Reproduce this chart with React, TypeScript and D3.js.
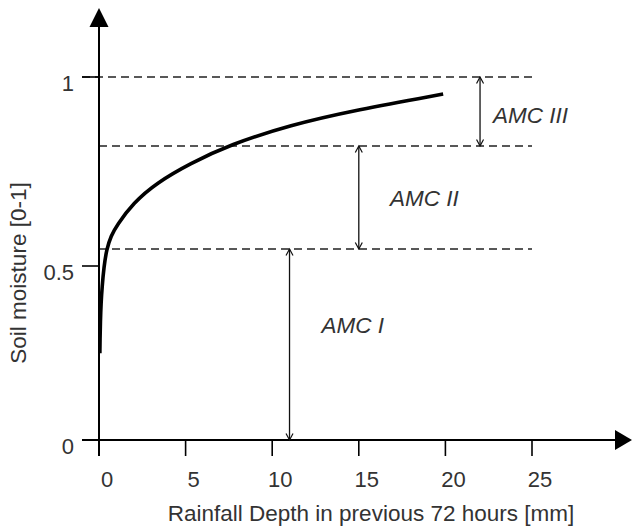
import React from "react";
import * as d3 from "d3";

const curveX = [0.05, 0.06, 0.08, 0.12, 0.18, 0.28, 0.44, 0.7, 1.02, 1.98, 3.33, 5.25, 7.56, 11.03, 14.87, 19.87];
const curveY = [0.249, 0.29, 0.34, 0.395, 0.44, 0.495, 0.545, 0.58, 0.607, 0.667, 0.72, 0.771, 0.821, 0.873, 0.913, 0.955];

const xTicks = [0, 5, 10, 15, 20, 25];
const yTicks = [0, 0.5, 1];
const yTickLabels = ["0", "0.5", "1"];

const thresholds = [0.545, 0.8175, 1];

const amcNames = ["AMC I", "AMC II", "AMC III"];
const amcArrowX = [11, 15, 22];
const amcLow = [0, 0.545, 0.8175];
const amcHigh = [0.545, 0.8175, 1];
const amcLabelX = [12.85, 16.8, 22.75];
const amcLabelY = [0.33, 0.68, 0.9];

const xTitle = "Rainfall Depth in previous 72 hours [mm]";
const yTitle = "Soil moisture [0-1]";

const W = 632;
const H = 530;
const FONT = "'Liberation Sans', Arial, sans-serif";

export default function App() {
  const x = d3.scaleLinear().domain([0, 25]).range([99, 532]);
  const y = d3.scaleLinear().domain([0, 0.5, 1]).range([440, 266, 77]);

  const pts: [number, number][] = curveX.map((v, i) => [v, curveY[i]]);
  const line = d3
    .line<[number, number]>()
    .x((d) => x(d[0]))
    .y((d) => y(d[1]))
    .curve(d3.curveBasis);

  const x0 = x(0);
  const y0 = y(0);
  const textColor = "#333";

  return (
    <svg
      width={W}
      height={H}
      style={{ position: "absolute", left: 0, top: 0, background: "#fff" }}
      fontFamily={FONT}
    >
      <defs>
        <marker
          id="chev"
          viewBox="-1 -5 9 10"
          refX={6.5}
          refY={0}
          markerWidth={9}
          markerHeight={10}
          markerUnits="userSpaceOnUse"
          orient="auto-start-reverse"
        >
          <path d="M0,-3.5 L6.5,0 L0,3.5" fill="none" stroke="#111" strokeWidth={1.2} />
        </marker>
      </defs>

      {/* dashed threshold lines */}
      {thresholds.map((t, i) => (
        <line
          key={"th" + i}
          x1={t === 1 ? x0 - 17 : x0}
          x2={x(25)}
          y1={y(t)}
          y2={y(t)}
          stroke="#222"
          strokeWidth={1.5}
          strokeDasharray="8,5"
        />
      ))}

      {/* x axis */}
      <line x1={x0 - 17} x2={W - 17} y1={y0} y2={y0} stroke="#000" strokeWidth={2} />
      <path d={`M${W - 17},${y0 - 10} L${W},${y0} L${W - 17},${y0 + 10} Z`} fill="#000" />
      {xTicks.map((t) => (
        <g key={"xt" + t}>
          <line x1={x(t)} x2={x(t)} y1={y0} y2={y0 + 16} stroke="#000" strokeWidth={1.6} />
          <text
            x={x(t) + 8}
            y={487}
            textAnchor="middle"
            fontSize={22}
            fill={textColor}
          >
            {t}
          </text>
        </g>
      ))}

      {/* y axis */}
      <line x1={x0} x2={x0} y1={y0 + 16} y2={27} stroke="#000" strokeWidth={2} />
      <path d={`M${x0 - 9.5},27 L${x0},8 L${x0 + 9.5},27 Z`} fill="#000" />
      {yTicks.map((t, i) => (
        <g key={"yt" + t}>
          <line x1={x0 - 17} x2={x0} y1={y(t)} y2={y(t)} stroke="#000" strokeWidth={1.6} />
          <text
            x={74}
            y={y(t) + 13.5}
            textAnchor="end"
            fontSize={22}
            fill={textColor}
          >
            {yTickLabels[i]}
          </text>
        </g>
      ))}

      {/* curve */}
      <path d={line(pts) || ""} fill="none" stroke="#000" strokeWidth={3.6} strokeLinecap="butt" />

      {/* AMC arrows */}
      {amcNames.map((n, i) => (
        <g key={n}>
          <line
            x1={x(amcArrowX[i])}
            x2={x(amcArrowX[i])}
            y1={y(amcLow[i])}
            y2={y(amcHigh[i])}
            stroke="#111"
            strokeWidth={1.3}
            markerStart="url(#chev)"
            markerEnd="url(#chev)"
          />
          <text
            x={x(amcLabelX[i])}
            y={y(amcLabelY[i]) + 8}
            fontSize={22.5}
            fontStyle="italic"
            fill={textColor}
          >
            {n}
          </text>
        </g>
      ))}

      {/* titles */}
      <text x={371} y={521} textAnchor="middle" fontSize={22.5} fill={textColor}>
        {xTitle}
      </text>
      <text
        transform={`translate(26,273) rotate(-90)`}
        textAnchor="middle"
        fontSize={22.5}
        fill={textColor}
      >
        {yTitle}
      </text>
    </svg>
  );
}
